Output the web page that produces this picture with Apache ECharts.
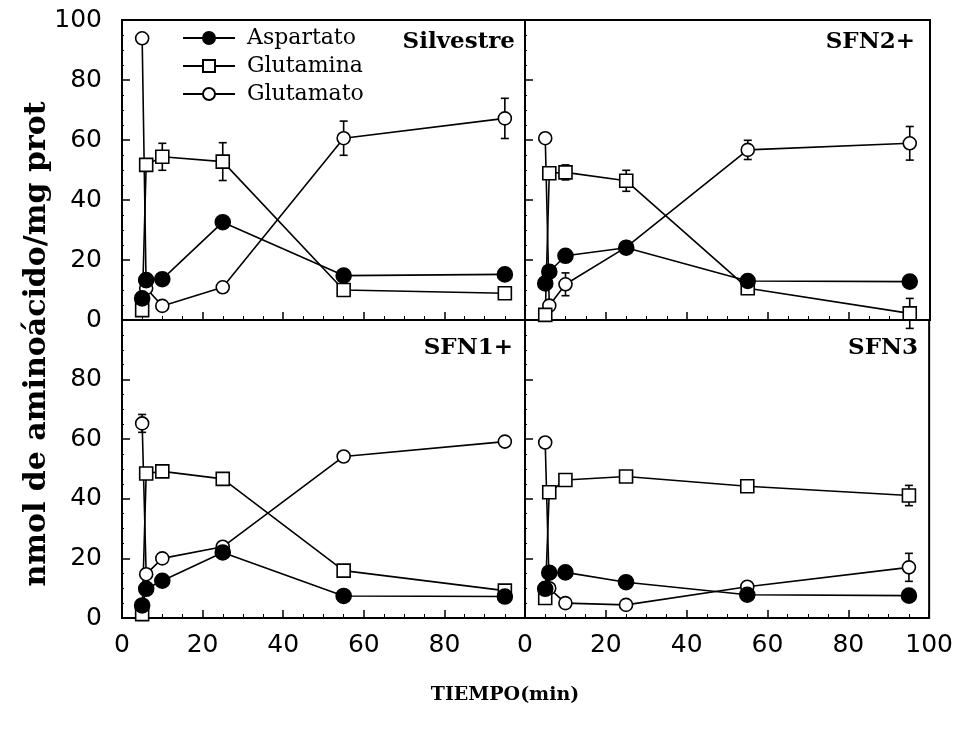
<!DOCTYPE html>
<html>
<head>
<meta charset="utf-8">
<script src="https://cdn.jsdelivr.net/npm/echarts@6/dist/echarts.min.js"></script>
<style>html,body{margin:0;padding:0;background:#fff}#c{width:956px;height:741px}</style>
</head>
<body>
<div id="c"></div>
<script>
// ---- data ----
const times = [5, 6, 10, 25, 55, 95];
const seriesNames = ['Aspartato', 'Glutamina', 'Glutamato'];
const panelNames = ['Silvestre', 'SFN2+', 'SFN1+', 'SFN3'];
const xTickLabels = [0, 20, 40, 60, 80, 100];
const yTickLabels = [0, 20, 40, 60, 80, 100];

// Silvestre
const silAsp = [7.2, 13.3, 13.6, 32.6, 14.8, 15.2];
const silGln = [3.3, 51.7, 54.4, 52.8, 10.0, 8.9];
const silGlu = [93.9, 10.6, 4.7, 10.9, 60.6, 67.2];
const silAspErr = [0, 0, 0, 0, 0, 0];
const silGlnErr = [0, 0, 4.5, 6.3, 0, 0];
const silGluErr = [0, 0, 0, 0, 5.7, 6.7];
// SFN2+
const sfn2Asp = [12.2, 16.1, 21.4, 24.1, 13.0, 12.8];
const sfn2Gln = [1.7, 48.9, 49.2, 46.4, 10.6, 2.2];
const sfn2Glu = [60.6, 4.8, 11.9, 24.3, 56.7, 58.9];
const sfn2AspErr = [0, 0, 0, 0, 0, 0];
const sfn2GlnErr = [0, 0, 2.5, 3.5, 0, 5.0];
const sfn2GluErr = [0, 0, 3.8, 0, 3.2, 5.6];
// SFN1+
const sfn1Asp = [4.2, 9.8, 12.5, 22.0, 7.4, 7.2];
const sfn1Gln = [1.3, 48.5, 49.2, 46.7, 15.9, 9.2];
const sfn1Glu = [65.3, 14.7, 20.0, 23.9, 54.2, 59.2];
const sfn1AspErr = [0, 0, 0, 0, 0, 0];
const sfn1GlnErr = [0, 0, 0, 0, 0, 1.5];
const sfn1GluErr = [3.0, 0, 0, 0, 0, 0];
// SFN3
const sfn3Asp = [9.8, 15.2, 15.3, 12.0, 7.8, 7.5];
const sfn3Gln = [6.7, 42.2, 46.3, 47.5, 44.2, 41.1];
const sfn3Glu = [58.9, 10.0, 5.0, 4.4, 10.5, 17.0];
const sfn3AspErr = [0, 0, 0, 0, 0, 0];
const sfn3GlnErr = [2.0, 0, 0, 0, 0, 3.4];
const sfn3GluErr = [0, 0, 0, 0, 0, 4.7];

const panels = [
  {vals: [silAsp, silGln, silGlu], errs: [silAspErr, silGlnErr, silGluErr]},
  {vals: [sfn2Asp, sfn2Gln, sfn2Glu], errs: [sfn2AspErr, sfn2GlnErr, sfn2GluErr]},
  {vals: [sfn1Asp, sfn1Gln, sfn1Glu], errs: [sfn1AspErr, sfn1GlnErr, sfn1GluErr]},
  {vals: [sfn3Asp, sfn3Gln, sfn3Glu], errs: [sfn3AspErr, sfn3GlnErr, sfn3GluErr]}
];

// ---- layout / style ----
const grids = [
  {left: 122, top: 20, width: 403, height: 300},
  {left: 525, top: 20, width: 405, height: 300},
  {left: 122, top: 320, width: 403, height: 298},
  {left: 525, top: 320, width: 405, height: 298}
];
const labelFont = 'DejaVu Sans';
const serif = 'DejaVu Serif';
const symbolStyles = [
  {symbol: 'circle', size: 15, color: '#000'},
  {symbol: 'rect', size: 13, color: '#fff'},
  {symbol: 'circle', size: 13, color: '#fff'}
];

const chart = echarts.init(document.getElementById('c'), null, {renderer: 'canvas'});

const xAxes = grids.map((g, i) => ({
  type: 'value', gridIndex: i, min: 0, max: 100, interval: 20,
  axisLine: {show: true, onZero: false, lineStyle: {color: '#000', width: 2}},
  axisTick: {show: true, inside: true, length: 8, lineStyle: {color: '#000', width: 1.5}},
  minorTick: {show: true, splitNumber: 4, length: 4, lineStyle: {color: '#000', width: 1}},
  splitLine: {show: false},
  axisLabel: {
    show: i >= 2, showMaxLabel: i === 3, margin: 15,
    fontFamily: labelFont, fontSize: 25, color: '#000',
    formatter: v => xTickLabels.includes(v) ? String(v) : ''
  }
}));
const yAxes = grids.map((g, i) => ({
  type: 'value', gridIndex: i, min: 0, max: 100, interval: 20,
  axisLine: {show: true, onZero: false, lineStyle: {color: '#000', width: 2}},
  axisTick: {show: true, inside: true, length: 8, lineStyle: {color: '#000', width: 1.5}},
  minorTick: {show: true, splitNumber: 4, length: 2, lineStyle: {color: '#000', width: 1}},
  splitLine: {show: false},
  axisLabel: {
    show: i % 2 === 0, showMaxLabel: i === 0, margin: 20,
    fontFamily: labelFont, fontSize: 25, color: '#000',
    formatter: v => yTickLabels.includes(v) ? String(v) : ''
  }
}));

const series = [];
const drawOrder = [2, 1, 0];
panels.forEach((p, pi) => {
  drawOrder.forEach(k => {
    const st = symbolStyles[k];
    const errData = [];
    times.forEach((t, j) => { if (p.errs[k][j] > 0) errData.push([t, p.vals[k][j], p.errs[k][j]]); });
    if (errData.length) {
      series.push({
        type: 'custom', xAxisIndex: pi, yAxisIndex: pi, z: 3, silent: true,
        data: errData,
        renderItem: (params, api) => {
          const x = api.value(0), y = api.value(1), e = api.value(2);
          const top = api.coord([x, y + e]);
          const bot = api.coord([x, y - e]);
          const cap = 4;
          const s = {stroke: '#000', lineWidth: 1.6};
          return {type: 'group', children: [
            {type: 'line', shape: {x1: top[0], y1: top[1], x2: bot[0], y2: bot[1]}, style: s},
            {type: 'line', shape: {x1: top[0] - cap, y1: top[1], x2: top[0] + cap, y2: top[1]}, style: s},
            {type: 'line', shape: {x1: bot[0] - cap, y1: bot[1], x2: bot[0] + cap, y2: bot[1]}, style: s}
          ]};
        }
      });
    }
    series.push({
      type: 'line', name: seriesNames[k], xAxisIndex: pi, yAxisIndex: pi, z: 4,
      data: times.map((t, j) => [t, p.vals[k][j]]),
      symbol: st.symbol, symbolSize: st.size, showAllSymbol: true,
      lineStyle: {color: '#000', width: 1.6},
      itemStyle: {color: st.color, borderColor: '#000', borderWidth: 1.6, opacity: 1},
      emphasis: {disabled: true},
      animation: false
    });
  });
});

const titleRights = [441, 41, 443, 38];
const titleTops = [31, 31, 337, 337];

chart.setOption({
  animation: false,
  backgroundColor: '#fff',
  grid: grids.map(g => Object.assign({show: true, borderColor: '#000', borderWidth: 2, backgroundColor: 'transparent'}, g)),
  xAxis: xAxes,
  yAxis: yAxes,
  title: panelNames.map((n, i) => ({
    text: n, right: titleRights[i], top: titleTops[i], padding: 0,
    textStyle: {fontFamily: serif, fontWeight: 'bold', fontSize: 23, color: '#000'}
  })),
  legend: {
    data: seriesNames, orient: 'vertical', left: 182, top: 27, padding: 0,
    itemWidth: 52, itemHeight: 15, itemGap: 6,
    textStyle: {fontFamily: serif, fontSize: 22, color: '#000', padding: [0, 0, 0, 7]},
    selectedMode: false
  },
  graphic: [
    {type: 'text', x: 37, y: 344, rotation: Math.PI / 2,
     style: {text: 'nmol de aminoácido/mg prot', font: 'bold 30px "DejaVu Serif"', fill: '#000', textAlign: 'center', textVerticalAlign: 'middle'}},
    {type: 'text', x: 505, y: 695,
     style: {text: 'TIEMPO(min)', font: 'bold 19px "DejaVu Serif"', fill: '#000', textAlign: 'center', textVerticalAlign: 'middle'}}
  ],
  series: series
});
</script>
</body>
</html>
